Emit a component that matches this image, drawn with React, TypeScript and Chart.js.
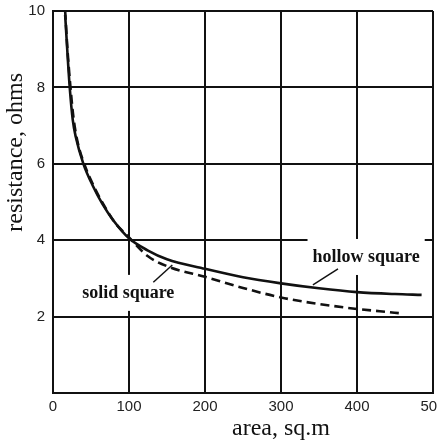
import React, { useEffect, useRef } from "react";
import { Chart, registerables } from "chart.js";

Chart.register(...registerables);

// Resistance (ohms) against area (sq.m) for the two grid shapes
const areaHollow = [16, 19, 22, 26, 30, 40, 53, 65, 79, 100, 125, 150, 200, 250, 300, 350, 400, 450, 485];
const resistanceHollow = [9.9, 8.9, 8.0, 7.15, 6.7, 6.0, 5.4, 4.95, 4.53, 4.05, 3.73, 3.5, 3.25, 3.03, 2.87, 2.74, 2.64, 2.59, 2.57];

const areaSolid = [16, 19, 23, 27, 32, 41, 54, 66, 80, 100, 125, 150, 200, 250, 300, 350, 400, 430, 455];
const resistanceSolid = [10.0, 9.0, 8.0, 7.2, 6.6, 6.0, 5.4, 4.95, 4.5, 4.07, 3.58, 3.32, 3.04, 2.75, 2.5, 2.33, 2.2, 2.14, 2.09];

// Curve labels: text, anchor (centre x, baseline y) and leader line ends, in data units
const labelTexts = ["hollow square", "solid square"];
const labelAnchors = [[412, 3.43], [99, 2.49]];
const leaderStarts = [[375, 3.25], [132, 2.9]];
const leaderEnds = [[342, 2.83], [157, 3.35]];

const INK = "#111";

const curveLabels = {
  id: "curveLabels",
  beforeDatasetsDraw(chart: any) {
    const { ctx } = chart;
    const xs = chart.scales.x;
    const ys = chart.scales.y;
    ctx.save();
    ctx.font = 'bold 18px "Liberation Serif"';
    labelTexts.forEach((text, i) => {
      const cx = xs.getPixelForValue(labelAnchors[i][0]);
      const by = ys.getPixelForValue(labelAnchors[i][1]);
      const w = ctx.measureText(text).width;
      // white patch so the grid does not run through the text
      ctx.fillStyle = "#fff";
      ctx.fillRect(cx - w / 2 - 5, by - 23, w + 10, 36);
      ctx.fillStyle = INK;
      ctx.textAlign = "center";
      ctx.textBaseline = "alphabetic";
      ctx.fillText(text, cx, by);
      ctx.strokeStyle = INK;
      ctx.lineWidth = 1.5;
      ctx.beginPath();
      ctx.moveTo(xs.getPixelForValue(leaderStarts[i][0]), ys.getPixelForValue(leaderStarts[i][1]));
      ctx.lineTo(xs.getPixelForValue(leaderEnds[i][0]), ys.getPixelForValue(leaderEnds[i][1]));
      ctx.stroke();
    });
    ctx.restore();
  },
};

const axisTitles = {
  id: "axisTitles",
  afterDraw(chart: any) {
    const { ctx, chartArea: a } = chart;
    ctx.save();
    ctx.fillStyle = INK;
    ctx.font = '24px "Liberation Serif"';
    ctx.textAlign = "center";
    ctx.textBaseline = "alphabetic";
    ctx.fillText("area, sq.m", a.left + 0.6 * (a.right - a.left), chart.height - 8);
    ctx.translate(22, a.top + 0.37 * (a.bottom - a.top));
    ctx.rotate(-Math.PI / 2);
    ctx.fillText("resistance, ohms", 0, 0);
    ctx.restore();
  },
};

export default function App() {
  const ref = useRef<HTMLCanvasElement>(null);

  useEffect(() => {
    const canvas = ref.current;
    if (!canvas) return;
    const tickFont = { family: '"Liberation Sans", Arial, sans-serif', size: 15 };
    const chart = new Chart(canvas, {
      type: "line",
      data: {
        datasets: [
          {
            label: "hollow square",
            data: areaHollow.map((x, i) => ({ x, y: resistanceHollow[i] })),
            borderColor: INK,
            borderWidth: 2.6,
            pointRadius: 0,
            fill: false,
            cubicInterpolationMode: "monotone",
          },
          {
            label: "solid square",
            data: areaSolid.map((x, i) => ({ x, y: resistanceSolid[i] })),
            borderColor: INK,
            borderWidth: 2.6,
            borderDash: [9, 5],
            pointRadius: 0,
            fill: false,
            cubicInterpolationMode: "monotone",
          },
        ],
      },
      options: {
        responsive: false,
        animation: false,
        devicePixelRatio: 1,
        layout: { padding: { top: 11, right: 4, left: 0, bottom: 0 } },
        plugins: { legend: { display: false }, tooltip: { enabled: false } },
        scales: {
          x: {
            type: "linear",
            min: 0,
            max: 500,
            ticks: { stepSize: 100, padding: 5, color: "#222", font: tickFont, maxRotation: 0 },
            grid: { color: INK, lineWidth: 2, drawTicks: false },
            border: { color: INK, width: 2 },
            afterFit: (s: any) => {
              s.height = 50;
              s.paddingLeft = 0;
              s.paddingRight = 0;
            },
          },
          y: {
            type: "linear",
            min: 0,
            max: 10,
            ticks: {
              stepSize: 2,
              padding: 8,
              color: "#222",
              font: tickFont,
              callback: (v: any) => (v === 0 ? "" : String(v)),
            },
            grid: { color: INK, lineWidth: 2, drawTicks: false },
            border: { color: INK, width: 2 },
            afterFit: (s: any) => {
              s.width = 53;
              s.paddingTop = 0;
              s.paddingBottom = 0;
            },
          },
        },
      } as any,
      plugins: [curveLabels, axisTitles],
    });
    return () => chart.destroy();
  }, []);

  return (
    <div style={{ position: "fixed", left: 0, top: 0, width: 437, height: 443, background: "#fff" }}>
      <canvas ref={ref} width={437} height={443} style={{ display: "block" }} />
    </div>
  );
}
